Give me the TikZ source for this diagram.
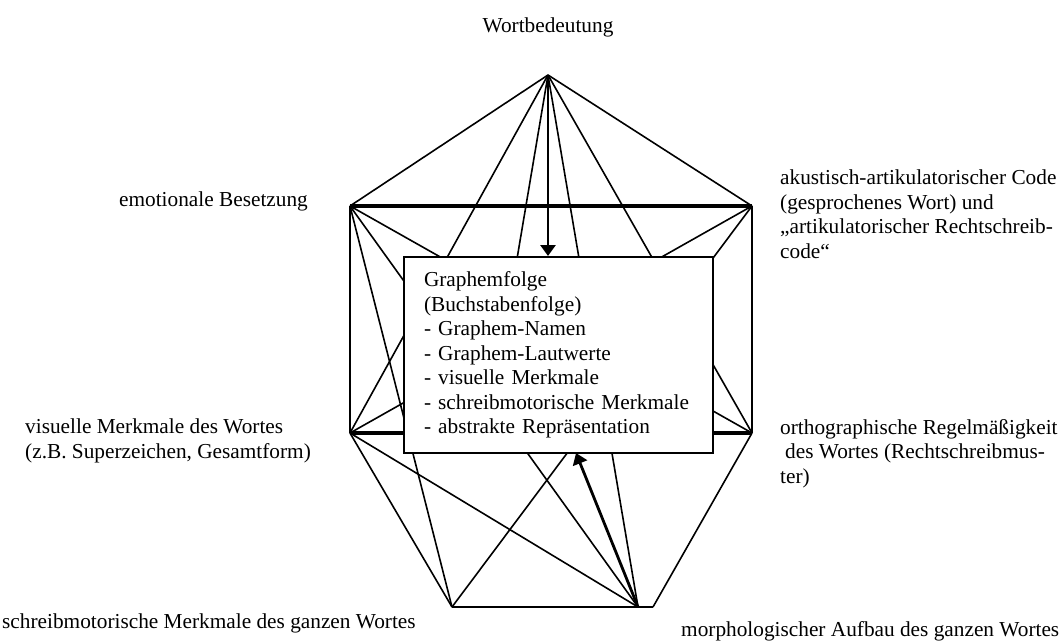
\documentclass[tikz,border=0pt]{standalone}
\usepackage{fontspec}
\setmainfont{Liberation Serif}
\usepackage{tikz}
\usetikzlibrary{arrows.meta, positioning}
\tikzset{
    link/.style={line width=1.6pt},
    thicklink/.style={line width=3.6pt},
    myarrow/.style={line width=2.8pt, -{Triangle[length=11pt, width=15pt]}},
    box/.style={draw, line width=2pt, fill=white, rectangle, minimum width=309pt, minimum height=196pt, text width=269pt, inner xsep=20pt, align=left},
    lbl/.style={inner sep=0pt, align=left}
}

\begin{document}
\begin{tikzpicture}[x=1pt, y=-1pt, font=\fontsize{21.3}{24.4}\selectfont]
    \useasboundingbox (0,0) rectangle (1061,642);
    % corners of the net
    \coordinate (top) at (548,75);
    \coordinate (ul) at (350,206);
    \coordinate (ur) at (752,206);
    \coordinate (ml) at (350,433);
    \coordinate (mr) at (752,433);
    \coordinate (bl) at (452,607);
    \coordinate (br) at (638,607);
    \coordinate (brc) at (653,607);
    \coordinate (hid) at (505,330);
    \coordinate (in2) at (576,453);

    \foreach \a/\b in {top/ul, top/ur, top/ml, top/hid, top/br, top/mr,
                       ul/ml, ul/mr, ul/bl, ul/br, ur/mr, ur/ml, ur/bl,
                       ml/bl, ml/br, mr/brc, bl/brc}
        \draw [link] (\a) -- (\b);
    \draw [thicklink] (ul) -- (ur);
    \draw [thicklink] (ml) -- (mr);

    \node (graph) [box] at (558.5,355) {{\fontsize{21.3}{24.5}\selectfont Graphemfolge\\(Buchstabenfolge)\\- Graphem-Namen\\- Graphem-Lautwerte\\- visuelle Merkmale\\- schreibmotorische Merkmale\\- abstrakte Repräsentation}};

    \draw [myarrow] (top) -- (top |- graph.north);
    \draw [myarrow] (br) -- (in2);

    % labels
    \node (wort) [lbl, anchor=base] at (548,33) {Wortbedeutung};
    \node (emo) [lbl, anchor=base east] at (308,206) {emotionale Besetzung};
    \node (aku) [lbl, anchor=north west] at (780,170) {akustisch-artikulatorischer Code\\(gesprochenes Wort) und\\„artikulatorischer Rechtschreib-\\code“};
    \node (vis) [lbl, anchor=north west] at (25,419) {visuelle Merkmale des Wortes\\(z.B. Superzeichen, Gesamtform)};
    \node (orth) [lbl, anchor=north west] at (780,419) {orthographische Regelmäßigkeit\\\hspace*{5pt}des Wortes (Rechtschreibmus-\\ter)};
    \node (schreib) [lbl, anchor=base west] at (2,628) {schreibmotorische Merkmale des ganzen Wortes};
    \node (morph) [lbl, anchor=base west] at (681,636) {morphologischer Aufbau des ganzen Wortes};
\end{tikzpicture}
\end{document}
